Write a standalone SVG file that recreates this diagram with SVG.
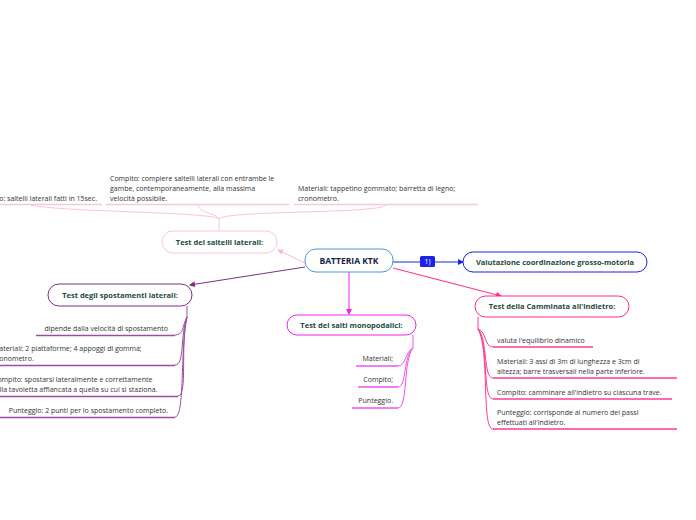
<svg xmlns="http://www.w3.org/2000/svg" width="696" height="520" viewBox="0 0 696 520">
<style>
.t{font-family:"Open Sans","Noto Sans","DejaVu Sans",sans-serif;font-size:7px;fill:#333}
.h{font-family:"Open Sans","Noto Sans","DejaVu Sans",sans-serif;font-size:7.5px;font-weight:bold;fill:#1d4a3c}
.c{fill:none;stroke-width:1}
.u{fill:none;stroke-width:1.5}
</style>
<defs>
<marker id="aPk" viewBox="0 0 6 6" refX="5" refY="3" markerWidth="6" markerHeight="6" orient="auto" markerUnits="userSpaceOnUse"><path d="M0,0L6,3L0,6z" fill="#f7bcd4"/></marker>
<marker id="aPu" viewBox="0 0 6 6" refX="5" refY="3" markerWidth="6" markerHeight="6" orient="auto" markerUnits="userSpaceOnUse"><path d="M0,0L6,3L0,6z" fill="#7d2f83"/></marker>
<marker id="aMg" viewBox="0 0 6 6" refX="5" refY="3" markerWidth="6" markerHeight="6" orient="auto" markerUnits="userSpaceOnUse"><path d="M0,0L6,3L0,6z" fill="#ee22ee"/></marker>
<marker id="aRd" viewBox="0 0 6 6" refX="5" refY="3" markerWidth="6" markerHeight="6" orient="auto" markerUnits="userSpaceOnUse"><path d="M0,0L6,3L0,6z" fill="#ff2a8c"/></marker>
<marker id="aBl" viewBox="0 0 6 6" refX="5" refY="3" markerWidth="6" markerHeight="6" orient="auto" markerUnits="userSpaceOnUse"><path d="M0,0L6,3L0,6z" fill="#1c22e8"/></marker>
</defs>
<rect width="696" height="520" fill="#fff"/>

<g id="connectors">
  <path class="c" d="M305,263 L278,250" stroke="#f7bcd4" marker-end="url(#aPk)"/>
  <path class="c" d="M305,267 L190,285" stroke="#7d2f83" marker-end="url(#aPu)"/>
  <path class="c" d="M349,272 L349,314" stroke="#ee22ee" marker-end="url(#aMg)"/>
  <path class="c" d="M393,268 L501,296" stroke="#ff2a8c" marker-end="url(#aRd)"/>
  <path class="c" d="M393,262 L463,262" stroke="#1c22e8" marker-end="url(#aBl)"/>
  <rect x="420" y="256" width="15" height="11" rx="1.5" fill="#1c22e8"/>
  <text x="427.5" y="264" text-anchor="middle" style="font-family:'Open Sans',sans-serif;font-size:7px;fill:#fff">1)</text>

  <!-- saltelli children -->
  <g stroke="#f9c6da">
    <path class="c" d="M219,231 L219,219"/>
    <path class="c" d="M219,219 C215,212 60,212 30,205"/>
    <path class="c" d="M219,219 C215,212 200,214 198,205"/>
    <path class="c" d="M219,219 C225,210 380,214 386,205"/>
    <path class="u" d="M0,204.5 L102,204.5"/>
    <path class="u" d="M106,204.5 L289,204.5"/>
    <path class="u" d="M294,204.5 L478,204.5"/>
  </g>
  <!-- spostamenti children -->
  <g stroke="#9a4ea0">
    <path class="c" d="M187,306 L187,317"/>
    <path class="c" d="M187,317 C182,326 184,335 175,335"/>
    <path class="c" d="M187,317 C180,335 185,365 175,365"/>
    <path class="c" d="M187,317 C180,345 188,396 178,396"/>
    <path class="c" d="M187,317 C180,350 185,417 175,417"/>
    <path class="u" d="M36,335.5 L175,335.5"/>
    <path class="u" d="M0,365.5 L175,365.5"/>
    <path class="u" d="M0,396.5 L178,396.5"/>
    <path class="u" d="M0,417.5 L175,417.5"/>
  </g>
  <!-- monopodalici children -->
  <g stroke="#f050f0">
    <path class="c" d="M413,335 L413,348"/>
    <path class="c" d="M413,348 C405,352 406,366 398,366"/>
    <path class="c" d="M413,348 C403,356 407,387 398,387"/>
    <path class="c" d="M413,348 C403,360 408,408 398,408"/>
    <path class="u" d="M356,366 L398,366"/>
    <path class="u" d="M358,387 L398,387"/>
    <path class="u" d="M352,408 L398,408"/>
  </g>
  <!-- camminata children -->
  <g stroke="#ff3a96">
    <path class="c" d="M478,317 L478,329"/>
    <path class="c" d="M478,329 C487,332 484,347 493,347"/>
    <path class="c" d="M478,329 C488,340 483,378 493,378"/>
    <path class="c" d="M478,329 C489,345 482,399 493,399"/>
    <path class="c" d="M478,329 C490,350 481,429 493,429"/>
    <path class="u" d="M493,347 L593,347"/>
    <path class="u" d="M493,378 L677,378"/>
    <path class="u" d="M493,399 L672,399"/>
    <path class="u" d="M493,429 L677,429"/>
  </g>
</g>

<g id="n-central">
  <rect x="305" y="249" width="88" height="23" rx="11" fill="#fff" stroke="#4a98d4" stroke-width="1"/>
  <text x="349" y="264" text-anchor="middle" style="font-family:'Open Sans','Noto Sans',sans-serif;font-size:8.5px;font-weight:bold;fill:#142346">BATTERIA KTK</text>
</g>
<g id="n-valutazione">
  <rect x="463" y="252" width="184" height="20" rx="10" fill="#fff" stroke="#1c22e8"/>
  <text class="h" x="555" y="265" text-anchor="middle">Valutazione coordinazione grosso-motoria</text>
</g>
<g id="n-saltelli">
  <rect x="162" y="231" width="115" height="22" rx="11" fill="#fff" stroke="#f9c6da"/>
  <text class="h" x="219.5" y="245" text-anchor="middle">Test dei saltelli laterali:</text>
</g>
<g id="n-spostamenti">
  <rect x="48" y="284" width="144" height="22" rx="11" fill="#fff" stroke="#7d2f83"/>
  <text class="h" x="120" y="298" text-anchor="middle">Test degli spostamenti laterali:</text>
</g>
<g id="n-monopodalici">
  <rect x="287" y="315" width="129" height="20" rx="10" fill="#fff" stroke="#ee22ee"/>
  <text class="h" x="351.5" y="328" text-anchor="middle">Test dei salti monopodalici:</text>
</g>
<g id="n-camminata">
  <rect x="475" y="296" width="154" height="21" rx="10.5" fill="#fff" stroke="#ff2a8c"/>
  <text class="h" x="552" y="309" text-anchor="middle">Test della Camminata all'indietro:</text>
</g>

<g id="saltelli-texts">
  <text class="t" x="97" y="201" text-anchor="end">Punteggio: saltelli laterali fatti in 15sec.</text>
  <text class="t" x="110" y="181">Compito: compiere saltelli laterali con entrambe le</text>
  <text class="t" x="110" y="191">gambe, contemporaneamente, alla massima</text>
  <text class="t" x="110" y="201">velocità possibile.</text>
  <text class="t" x="298" y="191">Materiali: tappetino gommato; barretta di legno;</text>
  <text class="t" x="298" y="201">cronometro.</text>
</g>
<g id="spostamenti-texts">
  <text class="t" x="168" y="331" text-anchor="end">dipende dalla velocità di spostamento</text>
  <text class="t" x="-7" y="351">Materiali: 2 piattaforme; 4 appoggi di gomma;</text>
  <text class="t" x="-7" y="361">cronometro.</text>
  <text class="t" x="-7" y="382">Compito: spostarsi lateralmente e correttamente</text>
  <text class="t" x="-8" y="392">sulla tavoletta affiancata a quella su cui si staziona.</text>
  <text class="t" x="168" y="413" text-anchor="end">Punteggio: 2 punti per lo spostamento completo.</text>
</g>
<g id="monopodalici-texts">
  <text class="t" x="393" y="361" text-anchor="end">Materiali;</text>
  <text class="t" x="393" y="382" text-anchor="end">Compito;</text>
  <text class="t" x="393" y="403" text-anchor="end">Punteggio.</text>
</g>
<g id="camminata-texts">
  <text class="t" x="497" y="343">valuta l'equilibrio dinamico</text>
  <text class="t" x="497" y="364">Materiali: 3 assi di 3m di lunghezza e 3cm di</text>
  <text class="t" x="497" y="374">altezza; barre trasversali nella parte inferiore.</text>
  <text class="t" x="497" y="395">Compito: camminare all'indietro su ciascuna trave.</text>
  <text class="t" x="497" y="415">Punteggio: corrisponde al numero dei passi</text>
  <text class="t" x="497" y="425">effettuati all'indietro.</text>
</g>
</svg>
